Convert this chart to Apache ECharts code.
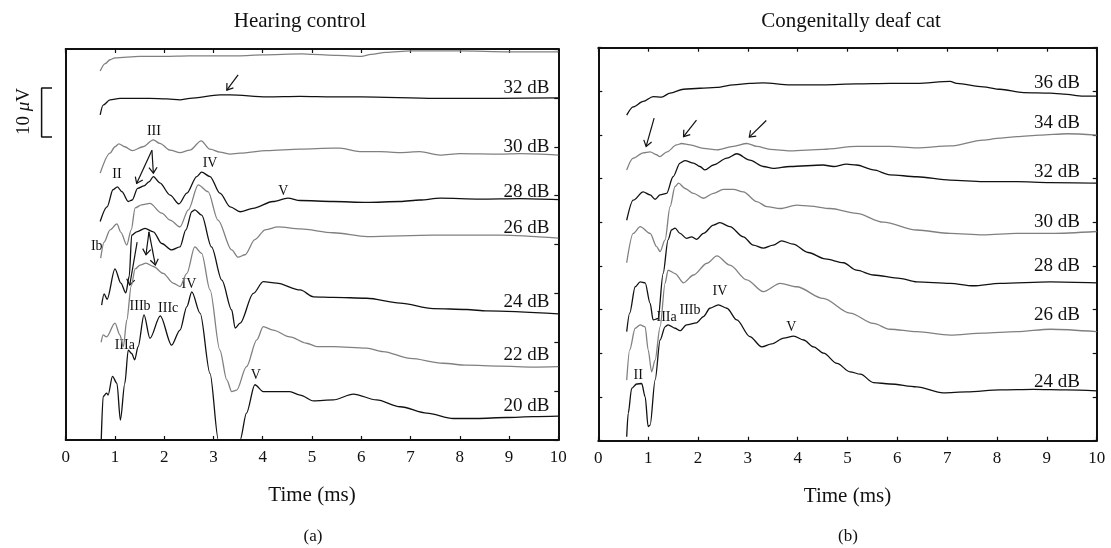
<!DOCTYPE html>
<html><head><meta charset="utf-8">
<script src="https://cdn.jsdelivr.net/npm/echarts@6/dist/echarts.min.js"></script>
<style>html,body{margin:0;padding:0;background:#fff}#c{width:1111px;height:548px}</style>
</head><body><div id="c"></div>
<script>
// ---------- DATA : time (ms), trace level (µV) ----------
// Hearing control
const hcTop = [[0.70,75.5],[0.80,77.0],[0.90,77.8],[1.0,78.2],[1.5,78.5],[2.0,78.5],[2.5,78.6],[3.0,78.6],[3.5,78.6],[4.0,78.8],[4.8,79.0],[5.0,78.9],[5.5,78.7],[6.0,78.5],[6.2,78.9],[6.5,79.3],[7.0,79.6],[8.0,79.6],[9.0,79.4],[10.0,79.4]];
const hc32 = [[0.70,66.5],[0.76,68.5],[0.90,69.6],[1.1,69.9],[1.7,69.9],[2.05,69.8],[2.32,69.6],[2.52,69.9],[3.13,70.6],[3.34,70.6],[4.08,70.2],[4.76,70.3],[5.43,70.2],[6.0,70.2],[7.5,69.9],[8.8,69.9],[10,70.0]];
const hc30 = [[0.70,54.6],[0.90,58.7],[1.00,60.0],[1.08,60.6],[1.20,60.0],[1.35,59.2],[1.57,60.0],[1.78,61.4],[1.91,60.7],[2.12,59.3],[2.32,58.8],[2.52,59.3],[2.75,61.2],[2.93,59.5],[3.13,58.9],[3.34,58.5],[3.54,58.7],[4.08,59.2],[4.76,59.5],[5.43,59.7],[5.57,59.7],[5.97,59.0],[6.38,59.0],[6.79,58.8],[7.19,59.0],[7.60,58.3],[8.0,58.6],[8.82,58.5],[9.22,58.6],[10,58.3]];
const hc28 = [[0.70,44.7],[0.84,47.7],[0.96,51.2],[1.05,51.8],[1.14,50.8],[1.27,48.8],[1.35,49.1],[1.46,51.5],[1.59,52.0],[1.69,52.8],[1.78,53.9],[1.91,52.6],[2.12,50.1],[2.30,48.3],[2.46,50.5],[2.66,53.9],[2.76,54.8],[2.93,53.9],[3.13,50.5],[3.34,47.7],[3.54,46.7],[3.80,47.4],[4.21,48.8],[4.51,49.5],[4.76,49.0],[5.43,48.8],[6.11,48.6],[6.79,48.8],[7.19,49.1],[7.60,49.5],[8.41,49.3],[9.22,49.4],[10,49.2]];
const hc26 = [[0.71,37.2],[0.78,40.5],[0.90,43.0],[1.04,44.2],[1.12,42.5],[1.24,39.9],[1.33,43.0],[1.41,47.5],[1.54,48.1],[1.71,48.4],[1.95,46.4],[2.12,45.0],[2.32,43.6],[2.49,47.1],[2.69,52.2],[2.89,50.8],[3.09,45.0],[3.37,38.9],[3.50,37.4],[3.64,37.9],[3.84,41.0],[4.05,43.0],[4.31,43.6],[4.76,43.2],[5.43,42.4],[6.12,41.6],[7.46,41.9],[8.82,41.9],[10,41.3]];
const hc24 = [[0.73,27.6],[0.78,29.9],[0.84,28.8],[1.00,35.0],[1.12,32.1],[1.22,30.1],[1.29,33.5],[1.34,41.9],[1.44,42.6],[1.61,43.3],[1.78,42.6],[1.95,40.2],[2.15,38.9],[2.32,39.5],[2.44,43.0],[2.56,46.7],[2.62,47.1],[2.76,46.0],[2.96,39.5],[3.17,32.7],[3.37,26.6],[3.44,22.9],[3.54,23.9],[3.81,30.0],[4.01,32.4],[4.28,32.1],[4.76,30.7],[5.03,29.3],[5.43,29.2],[6.11,29.0],[6.79,28.0],[7.46,26.9],[8.14,26.7],[8.55,26.4],[10,25.8]];
const hc22 = [[0.72,20.0],[0.76,21.5],[0.83,21.1],[1.00,23.9],[1.10,21.5],[1.17,19.1],[1.24,24.5],[1.33,31.5],[1.41,35.0],[1.51,35.8],[1.63,36.2],[1.78,35.5],[1.98,34.1],[2.18,32.1],[2.32,31.4],[2.46,34.1],[2.62,39.5],[2.76,38.2],[2.93,30.7],[3.13,18.4],[3.27,12.3],[3.37,9.9],[3.47,10.2],[3.67,15.0],[3.88,20.5],[4.01,23.2],[4.21,22.5],[4.55,21.1],[4.89,19.8],[5.10,19.1],[5.43,19.1],[6.11,18.8],[6.44,18.1],[6.99,16.7],[7.66,15.7],[8.14,15.3],[8.82,15.1],[9.49,14.9],[10,15.0]];
const hc20 = [[0.72,-0.5],[0.76,8.9],[0.83,9.6],[0.86,9.2],[0.95,13.0],[1.04,11.6],[1.11,4.1],[1.20,11.6],[1.27,18.4],[1.34,17.7],[1.40,16.4],[1.47,19.1],[1.59,25.6],[1.71,20.8],[1.92,25.4],[2.15,19.4],[2.32,22.5],[2.46,27.3],[2.56,30.3],[2.73,25.9],[2.93,13.6],[3.10,0],[3.29,-4],[3.54,0],[3.67,5.5],[3.84,11.3],[4.01,9.9],[4.28,9.9],[4.55,9.9],[4.76,9.2],[5.03,8.0],[5.43,8.2],[5.84,9.4],[6.31,8.2],[6.79,6.8],[7.33,5.5],[7.87,4.4],[8.34,4.4],[8.95,4.6],[9.49,4.8],[10,4.9]];
// Congenitally deaf cat
const cd36 = [[0.57,66.6],[0.70,68.3],[0.90,69.4],[1.10,70.4],[1.27,70.3],[1.44,71.1],[1.71,71.9],[2.04,72.1],[2.38,72.3],[2.71,72.8],[3.04,73.1],[3.31,73.2],[3.85,72.8],[4.51,72.8],[5.18,73.0],[5.85,73.1],[6.39,73.1],[7.06,73.5],[7.19,73.1],[7.72,72.4],[8.06,71.9],[8.53,71.2],[9.07,71.1],[9.33,70.9],[9.73,70.5],[10,70.5]];
const cd34 = [[0.57,55.4],[0.70,57.8],[0.90,58.9],[1.04,59.1],[1.17,58.5],[1.23,58.1],[1.38,59.1],[1.57,60.5],[1.67,60.8],[1.84,60.5],[2.11,59.8],[2.38,59.5],[2.71,60.2],[2.98,60.8],[3.18,60.2],[3.45,59.6],[3.85,59.3],[4.51,59.6],[5.18,60.2],[5.85,60.2],[6.39,59.9],[7.06,60.3],[7.72,61.5],[8.06,61.9],[8.40,62.2],[8.86,62.5],[9.40,62.8],[10,62.5]];
const cd32 = [[0.57,45.1],[0.70,49.2],[0.90,50.9],[1.04,50.3],[1.14,49.4],[1.24,50.3],[1.37,50.6],[1.50,54.0],[1.64,56.8],[1.74,57.3],[1.91,56.8],[2.04,56.1],[2.14,55.4],[2.31,56.4],[2.58,57.8],[2.78,58.7],[3.04,57.4],[3.31,56.1],[3.51,55.7],[3.85,56.1],[4.51,56.4],[4.72,56.1],[4.98,56.6],[5.18,56.4],[5.52,55.4],[5.85,54.4],[6.39,54.0],[7.06,53.3],[7.72,53.0],[8.39,53.0],[9.07,52.8],[10,52.7]];
const cd30 = [[0.57,36.4],[0.70,42.4],[0.84,43.8],[1.04,42.4],[1.17,39.7],[1.24,38.7],[1.34,41.1],[1.44,47.9],[1.54,52.0],[1.61,52.7],[1.74,51.6],[1.91,50.6],[2.11,49.6],[2.31,50.6],[2.51,51.4],[2.71,51.4],[2.91,50.9],[3.18,48.9],[3.38,47.9],[3.65,47.5],[3.98,48.2],[4.25,48.0],[4.65,47.5],[5.18,46.5],[5.72,44.7],[6.39,43.1],[7.06,42.4],[7.72,42.1],[8.39,42.4],[9.07,42.4],[10,42.8]];
const cd28 = [[0.57,22.3],[0.63,26.1],[0.74,31.5],[0.84,32.5],[0.94,32.3],[1.04,28.1],[1.10,24.7],[1.20,25.0],[1.30,34.2],[1.40,41.1],[1.47,43.1],[1.54,43.5],[1.64,42.4],[1.77,41.4],[1.87,41.7],[1.97,41.2],[2.11,42.4],[2.31,44.1],[2.44,44.6],[2.64,43.8],[2.91,41.7],[3.11,40.0],[3.31,39.4],[3.51,40.0],[3.68,40.9],[3.91,40.2],[4.21,38.5],[4.55,37.2],[4.92,36.4],[5.18,34.9],[5.52,33.9],[6.05,33.2],[6.39,32.5],[7.06,32.2],[7.52,31.7],[8.06,32.2],[9.07,32.5],[10,32.3]];
const cd26 = [[0.57,12.4],[0.63,18.6],[0.74,23.0],[0.84,23.7],[0.94,23.3],[1.00,18.6],[1.07,14.1],[1.14,16.5],[1.24,23.3],[1.34,32.2],[1.40,34.9],[1.54,34.2],[1.71,32.3],[1.91,33.9],[2.18,36.3],[2.38,37.8],[2.64,35.9],[2.98,32.9],[3.31,30.5],[3.65,32.2],[3.98,31.5],[4.51,29.1],[5.05,26.1],[5.52,24.0],[5.85,22.8],[6.39,22.3],[7.06,21.6],[7.72,22.0],[8.39,22.3],[9.07,22.8],[10,22.3]];
const cd24 = [[0.57,0.8],[0.60,5.6],[0.67,10.7],[0.77,11.6],[0.87,11.7],[0.94,9.0],[1.00,2.9],[1.04,3.2],[1.14,12.4],[1.24,20.6],[1.34,23.3],[1.40,23.7],[1.54,23.0],[1.64,22.5],[1.77,23.7],[1.97,24.1],[2.11,25.4],[2.24,27.1],[2.41,27.8],[2.58,27.1],[2.78,24.7],[3.04,21.3],[3.28,19.2],[3.48,19.8],[3.72,21.0],[3.92,21.4],[4.12,20.6],[4.32,19.2],[4.52,17.9],[4.79,15.8],[5.05,14.1],[5.26,13.6],[5.52,11.9],[5.85,11.6],[6.39,11.0],[6.92,9.8],[7.39,10.0],[8.06,10.4],[8.73,10.5],[9.40,10.4],[10,10.2]];

// level labels
const hcLevelText = ['32 dB','30 dB','28 dB','26 dB','24 dB','22 dB','20 dB'];
const hcLevelAt = [72.0,60.0,50.8,43.3,28.3,17.4,7.0];
const cdLevelText = ['36 dB','34 dB','32 dB','30 dB','28 dB','26 dB','24 dB'];
const cdLevelAt = [73.2,64.9,55.0,44.8,35.7,25.7,12.1];
// wave labels [text, ms, µV]
const hcWaves = [['III',1.79,63.1],['II',1.04,54.4],['IV',2.93,56.7],['V',4.42,50.8],['Ib',0.63,39.7],['IIIa',1.20,19.4],['IIIb',1.51,27.3],['IIIc',2.08,26.9],['IV',2.50,31.9],['V',3.86,13.3]];
const cdWaves = [['II',0.80,13.4],['IIIa',1.37,25.2],['IIIb',1.84,26.6],['IV',2.44,30.5],['V',3.87,23.2]];
// arrows [tail ms, tail µV, tip ms, tip µV]
const hcArrows = [[3.50,74.7,3.27,71.6],[1.75,59.3,1.44,52.5],[1.75,59.3,1.78,54.6],[1.45,40.5,1.30,31.7],[1.69,42.6,1.63,37.9],[1.69,42.6,1.82,35.8]];
const cdArrows = [[1.12,66.0,0.96,60.2],[1.97,65.6,1.71,62.2],[3.37,65.5,3.03,62.1]];
const scaleBar = [62, 72]; // 10 µV

// ---------- CHART ----------
const SERIF = '"Liberation Serif","DejaVu Serif",serif';
const INK = '#111', GRAY = '#808080', BLACK = '#111';
const chart = echarts.init(document.getElementById('c'), null, {renderer:'canvas'});

function axisX(grid, pos, labels){
  return {gridIndex:grid, type:'value', min:0, max:10, interval:1, position:pos,
    axisLine:{show:true, onZero:false, lineStyle:{color:INK, width:2}},
    axisTick:{show:true, inside:true, length:4, lineStyle:{color:INK, width:1.2}},
    axisLabel:{show:labels, color:INK, fontFamily:SERIF, fontSize:17, margin:9},
    splitLine:{show:false},
    name: labels ? 'Time (ms)' : '', nameLocation:'middle', nameGap:45,
    nameTextStyle:{color:INK, fontFamily:SERIF, fontSize:21}};
}
function axisY(grid, pos, max, interval, ticks){
  return {gridIndex:grid, type:'value', min:0, max:max, interval:interval, position:pos,
    axisLine:{show:true, onZero:false, lineStyle:{color:INK, width:2}},
    axisTick:{show:ticks, inside:true, length:4, lineStyle:{color:INK, width:1.2}},
    axisLabel:{show:false}, splitLine:{show:false}};
}
function trace(data, color, xi, yi){
  return {type:'line', data:data, xAxisIndex:xi, yAxisIndex:yi, showSymbol:false, symbol:'none',
    smooth:0.3, smoothMonotone:'x', clip:true, silent:true, animation:false,
    lineStyle:{color:color, width:1.3}};
}
// text placed through the axes: [text, ms, µV]
function textSeries(list, xi, yi, align, size){
  return {type:'custom', xAxisIndex:xi, yAxisIndex:yi, silent:true, animation:false,
    data: list.map(w=>[w[1], w[2], w[0]]),
    dimensions:['x','y',{name:'t', type:'ordinal'}],
    encode:{x:0, y:1},
    renderItem:function(params, api){
      const p = api.coord([api.value(0), api.value(1)]);
      const txt = list[params.dataIndex][0];
      return {type:'text', x:p[0], y:p[1],
        style:{text:txt, fill:INK, font: size+'px '+SERIF, textAlign:align, textVerticalAlign:'middle'}};
    }};
}
function arrows(list, xi, yi){
  return {type:'custom', xAxisIndex:xi, yAxisIndex:yi, silent:true, animation:false,
    data:list, encode:{x:[0,2], y:[1,3]},
    renderItem:function(params, api){
      const a = api.coord([api.value(0), api.value(1)]);
      const b = api.coord([api.value(2), api.value(3)]);
      const ang = Math.atan2(a[1]-b[1], a[0]-b[0]);
      const L = 7, h = 0.62;
      const p1 = [b[0]+L*Math.cos(ang+h), b[1]+L*Math.sin(ang+h)];
      const p2 = [b[0]+L*Math.cos(ang-h), b[1]+L*Math.sin(ang-h)];
      return {type:'group', children:[
        {type:'line', shape:{x1:a[0],y1:a[1],x2:b[0],y2:b[1]}, style:{stroke:BLACK, lineWidth:1.2}},
        {type:'polyline', shape:{points:[p1,b,p2]}, style:{stroke:BLACK, fill:null, lineWidth:1.2}}
      ]};
    }};
}
const hcLevels = hcLevelText.map((t,i)=>[t, 9.82, hcLevelAt[i]]);
const cdLevels = cdLevelText.map((t,i)=>[t, 9.665, cdLevelAt[i]]);

const option = {
  backgroundColor:'#fff',
  animation:false,
  grid:[
    {left:65.7, right:552.7, top:49, bottom:108, containLabel:false},
    {left:598.3, right:14.3, top:47.7, bottom:107.3, containLabel:false},
    {left:35, width:20, top:49, bottom:108, containLabel:false}
  ],
  xAxis:[
    axisX(0,'bottom',true), axisX(0,'top',false),
    axisX(1,'bottom',true), axisX(1,'top',false),
    {gridIndex:2, type:'value', min:0, max:1, show:false}
  ],
  yAxis:[
    axisY(0,'left',80,10,false), axisY(0,'right',80,10,true),
    axisY(1,'left',80.4,80.4/9,true), axisY(1,'right',80.4,80.4/9,true),
    {gridIndex:2, type:'value', min:0, max:80, show:false}
  ],
  graphic:[
    {type:'text', x:300, y:21, style:{text:'Hearing control', font:'21px '+SERIF, fill:INK, textAlign:'center', textVerticalAlign:'middle'}},
    {type:'text', x:851, y:21, style:{text:'Congenitally deaf cat', font:'21px '+SERIF, fill:INK, textAlign:'center', textVerticalAlign:'middle'}},
    {type:'text', x:313, y:537, style:{text:'(a)', font:'17px '+SERIF, fill:INK, textAlign:'center', textVerticalAlign:'middle'}},
    {type:'text', x:848, y:537, style:{text:'(b)', font:'17px '+SERIF, fill:INK, textAlign:'center', textVerticalAlign:'middle'}},
    {type:'text', x:24, y:111.5, rotation:Math.PI/2,
     style:{text:'{a|10 }{m|μ}{a|V}', textAlign:'center', textVerticalAlign:'middle',
       rich:{a:{fontFamily:SERIF, fontSize:19, fill:INK, color:INK}, m:{fontFamily:SERIF, fontSize:19, fontStyle:'italic', fill:INK, color:INK}}}}
  ],
  series:[
    trace(hcTop, GRAY, 0, 0), trace(hc32, BLACK, 0, 0), trace(hc30, GRAY, 0, 0), trace(hc28, BLACK, 0, 0),
    trace(hc26, GRAY, 0, 0), trace(hc24, BLACK, 0, 0), trace(hc22, GRAY, 0, 0), trace(hc20, BLACK, 0, 0),
    trace(cd36, BLACK, 2, 2), trace(cd34, GRAY, 2, 2), trace(cd32, BLACK, 2, 2), trace(cd30, GRAY, 2, 2),
    trace(cd28, BLACK, 2, 2), trace(cd26, GRAY, 2, 2), trace(cd24, BLACK, 2, 2),
    textSeries(hcLevels, 0, 0, 'right', 19),
    textSeries(cdLevels, 2, 2, 'right', 19),
    textSeries(hcWaves, 0, 0, 'center', 14), textSeries(cdWaves, 2, 2, 'center', 14),
    arrows(hcArrows, 0, 0), arrows(cdArrows, 2, 2),
    {type:'line', xAxisIndex:4, yAxisIndex:4, showSymbol:false, symbol:'none', silent:true, animation:false,
     lineStyle:{color:INK, width:1.5},
     data:[[0.85,scaleBar[1]],[0.33,scaleBar[1]],[0.33,scaleBar[0]],[0.85,scaleBar[0]]]}
  ]
};
chart.setOption(option);
</script>
</body></html>
